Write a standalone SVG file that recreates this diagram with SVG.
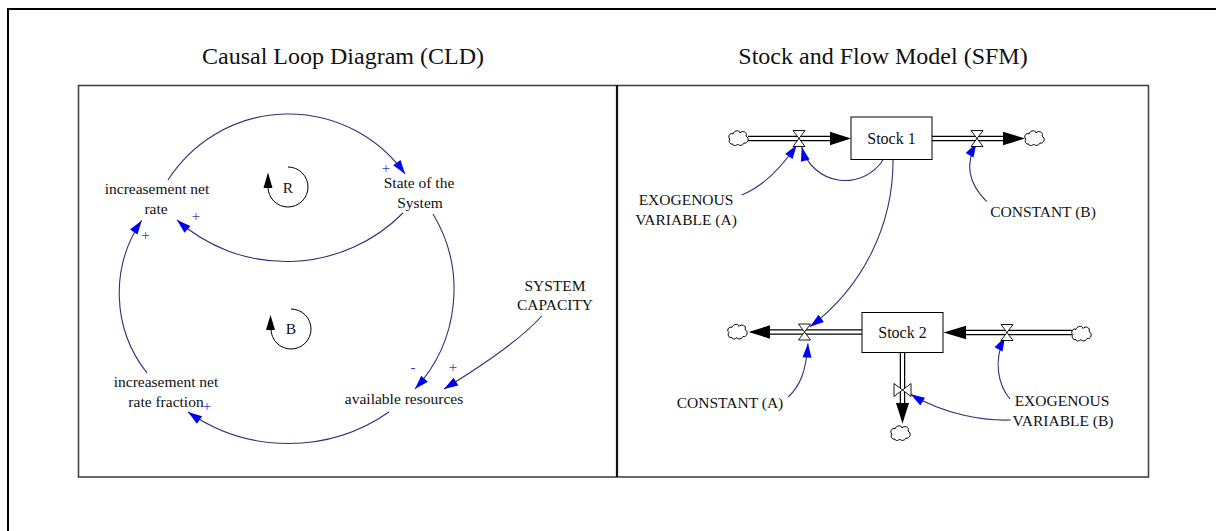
<svg xmlns="http://www.w3.org/2000/svg" width="1216" height="531" viewBox="0 0 1216 531">
<style>
text{font-family:"Liberation Serif","Times New Roman",serif;fill:#111}
.t{font-size:24px;text-anchor:middle}
.l{font-size:15.5px;text-anchor:middle}
.s{font-size:16px;text-anchor:middle}
.pol{font-size:15px;fill:#3535c0;text-anchor:middle}
.lnk{fill:none;stroke:#30307a;stroke-width:1.1;marker-end:url(#ba)}
.po{stroke:#000;stroke-width:5.5;fill:none}
.pi{stroke:#fff;stroke-width:3;fill:none}
.valve{fill:#fff;stroke:#000;stroke-width:0.9}
.cloud{fill:#fff;stroke:#000;stroke-width:1}
.stock{fill:#fff;stroke:#000;stroke-width:1}
.fa{fill:#000}
.loop{fill:none;stroke:#000;stroke-width:1}
</style>
<defs>
<marker id="ba" viewBox="-15 -6 16 12" refX="0" refY="0" markerWidth="16" markerHeight="12" markerUnits="userSpaceOnUse" orient="auto"><path d="M0,0 L-14,-4.5 L-14,4.5 Z" fill="#0000f0"/></marker>
<path id="cl" d="M-6,6 C-9,7 -11,3 -9,1 C-12,-1 -9,-6 -6,-4 C-5,-8 1,-8 1,-5 C3,-8 9,-6 7,-2 C11,0 9,6 5,5 C4,8 -1,8 -1,6 C-3,8 -6,8 -6,6 Z"/>
<path id="vh" d="M-6,-8 L6,-8 L-6,8 L6,8 Z"/>
<path id="vv" d="M-8.5,-6.5 L-8.5,6.5 L8.5,-6.5 L8.5,6.5 Z"/>
</defs>
<rect width="1216" height="531" fill="#fff"/>
<g id="frame">
<path d="M8,531 V9 H1216" fill="none" stroke="#000" stroke-width="2"/>
<rect x="78.5" y="85.5" width="1070" height="391.5" fill="none" stroke="#444" stroke-width="1.6"/>
<line x1="617" y1="85" x2="617" y2="477" stroke="#111" stroke-width="2.2"/>
<text class="t" x="343" y="64">Causal Loop Diagram (CLD)</text>
<text class="t" x="883" y="64">Stock and Flow Model (SFM)</text>
</g>
<g id="connectors">
<path class="lnk" d="M168,180 A143,143 0 0 1 405,174"/>
<path class="lnk" d="M403,213 A164.5,164.5 0 0 1 177,220"/>
<path class="lnk" d="M433,214 A146.3,146.3 0 0 1 415,389"/>
<path class="lnk" d="M389,412 A176,176 0 0 1 188,412"/>
<path class="lnk" d="M147,373 A128.7,128.7 0 0 1 141.7,220.5"/>
<path class="lnk" d="M541.7,316 Q516,345 444,389"/>
<path class="lnk" d="M741.7,195 Q770.8,183.4 796.7,145"/>
<path class="lnk" d="M883.3,159.5 A45,45 0 0 1 801.7,147"/>
<path class="lnk" d="M986.7,201.7 C970,185 964,165 976.5,143"/>
<path class="lnk" d="M893,159.5 A207,207 0 0 1 810,326.7"/>
<path class="lnk" d="M788.3,397 C800,386 806,372 808,343.5"/>
<path class="lnk" d="M1010,399 C998,385 993,360 1005,337"/>
<path class="lnk" d="M1010.7,420 C985,421 945,415 910.7,394.3"/>
<text class="pol" x="386" y="173">+</text>
<text class="pol" x="196" y="221">+</text>
<text class="pol" x="145.5" y="240">+</text>
<text class="pol" x="207" y="411">+</text>
<text class="pol" x="413" y="372">-</text>
<text class="pol" x="453" y="372">+</text>
</g>
<g id="loopR">
<path class="loop" d="M288,167 A20,20 0 1 1 268,187"/>
<path class="fa" d="M268,172.5 L263.5,188 L272.5,188 Z"/>
<text class="l" x="288" y="192.5">R</text>
</g>
<g id="loopB">
<path class="loop" d="M291,309 A20,20 0 1 1 271,329"/>
<path class="fa" d="M270.5,315 L266,330 L275,330 Z"/>
<text class="l" x="291" y="334">B</text>
</g>
<g id="increasement-net-rate"><text class="l" x="157" y="194">increasement net</text><text class="l" x="156" y="214">rate</text></g>
<g id="state-of-the-system"><text class="l" x="419" y="188">State of the</text><text class="l" x="420" y="207.5">System</text></g>
<g id="system-capacity"><text class="l" x="555" y="290.5">SYSTEM</text><text class="l" x="555" y="310">CAPACITY</text></g>
<g id="available-resources"><text class="l" x="404" y="404">available resources</text></g>
<g id="increasement-net-rate-fraction"><text class="l" x="166" y="386.5">increasement net</text><text class="l" x="166" y="406.5">rate fraction</text></g>
<g id="flow1">
<line class="po" x1="748" y1="138.5" x2="831" y2="138.5"/><line class="pi" x1="747" y1="138.5" x2="831" y2="138.5"/>
<path class="fa" d="M830,131.8 L851,138.5 L830,145.2 Z"/>
<use href="#cl" class="cloud" x="739" y="138"/>
<use href="#vh" class="valve" x="799" y="138.5"/>
</g>
<g id="flow2">
<line class="po" x1="932" y1="138.5" x2="1004" y2="138.5"/><line class="pi" x1="932" y1="138.5" x2="1004" y2="138.5"/>
<path class="fa" d="M1003,131.8 L1025,138.5 L1003,145.2 Z"/>
<use href="#cl" class="cloud" x="1035" y="138"/>
<use href="#vh" class="valve" x="977" y="138.5"/>
</g>
<g id="stock1"><rect class="stock" x="851" y="117" width="81" height="42.5"/><text class="s" x="891.5" y="143.5">Stock 1</text></g>
<g id="flow3">
<line class="po" x1="862" y1="332" x2="769" y2="332"/><line class="pi" x1="862" y1="332" x2="769" y2="332"/>
<path class="fa" d="M770,325.3 L748.5,332 L770,338.7 Z"/>
<use href="#cl" class="cloud" x="738" y="331.5"/>
<use href="#vh" class="valve" x="804.5" y="332"/>
</g>
<g id="flow4">
<line class="po" x1="1072" y1="332.5" x2="965" y2="332.5"/><line class="pi" x1="1073" y1="332.5" x2="965" y2="332.5"/>
<path class="fa" d="M966,325.8 L943.5,332.5 L966,339.2 Z"/>
<use href="#cl" class="cloud" x="1082" y="333.5"/>
<use href="#vh" class="valve" x="1007" y="332.5"/>
</g>
<g id="flow5">
<line class="po" x1="902.5" y1="352" x2="902.5" y2="404"/><line class="pi" x1="902.5" y1="352" x2="902.5" y2="404"/>
<path class="fa" d="M896,403 L902.5,423.5 L909,403 Z"/>
<use href="#cl" class="cloud" x="901" y="433"/>
<use href="#vv" class="valve" x="902.5" y="390"/>
</g>
<g id="stock2"><rect class="stock" x="862" y="312.5" width="81" height="40"/><text class="s" x="902.5" y="337.5">Stock 2</text></g>
<g id="exogenous-a"><text class="l" x="686" y="205">EXOGENOUS</text><text class="l" x="686" y="225">VARIABLE (A)</text></g>
<g id="constant-b"><text class="l" x="1043" y="216.5">CONSTANT (B)</text></g>
<g id="constant-a"><text class="l" x="730" y="408">CONSTANT (A)</text></g>
<g id="exogenous-b"><text class="l" x="1062" y="406">EXOGENOUS</text><text class="l" x="1063" y="426">VARIABLE (B)</text></g>
</svg>
